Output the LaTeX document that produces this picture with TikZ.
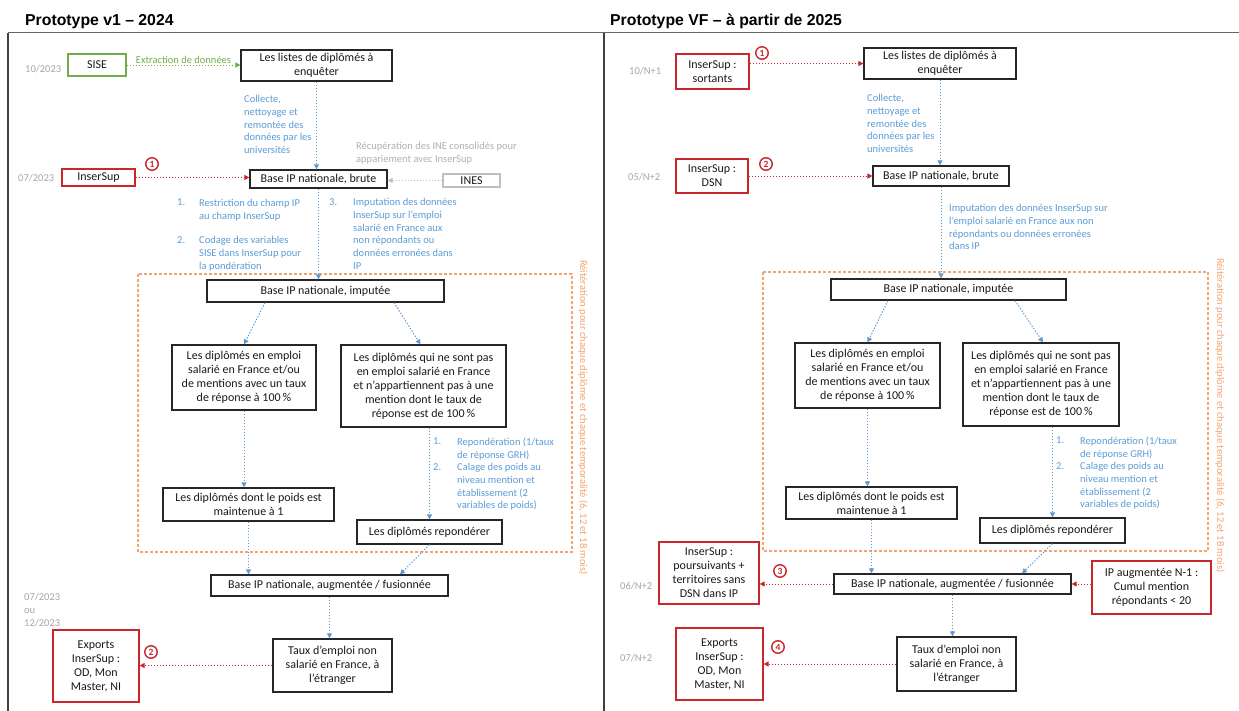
\documentclass[tikz,border=0pt]{standalone}
\usepackage{fontspec}
\setmainfont{Carlito}
\newfontfamily\titrefont{Liberation Sans}
\usetikzlibrary{arrows.meta, positioning, calc}
\definecolor{bleuflux}{HTML}{5B9BD5}
\definecolor{rougeflux}{HTML}{C8282D}
\definecolor{vertflux}{HTML}{70AD47}
\definecolor{orangeflux}{HTML}{F4A46E}
\definecolor{grisdate}{HTML}{A6A6A6}
\definecolor{griscadre}{HTML}{404040}

\tikzset{
  boite/.style={draw=black!85, line width=1.2pt, align=center, inner sep=1pt,
    font=\fontsize{12}{14}\selectfont, text=black!90},
  boiterouge/.style={boite, draw=rougeflux},
  notebleue/.style={align=left, inner sep=0pt, anchor=north west, text=bleuflux,
    font=\fontsize{10.5}{12.8}\selectfont},
  datetxt/.style={align=left, inner sep=0pt, anchor=west, text=grisdate,
    font=\fontsize{10.5}{12.6}\selectfont},
  fleche/.style={line width=0.9pt, dash pattern=on 1.5pt off 1.5pt,
    -{Triangle[length=5pt,width=5pt]}},
  bleue/.style={fleche, bleuflux},
  rouge/.style={fleche, rougeflux},
  rond/.style={circle, draw=rougeflux, line width=1.4pt, text=rougeflux, inner sep=0pt,
    minimum size=12.5pt, font=\bfseries\fontsize{9.5}{9.5}\selectfont},
  iteration/.style={draw=orangeflux, line width=1.4pt, dash pattern=on 3pt off 2pt},
  txtvertical/.style={rotate=-90, anchor=west, inner sep=0pt, text=orangeflux,
    font=\fontsize{10.5}{12}\selectfont},
  titre/.style={anchor=base west, inner sep=0pt,
    font=\titrefont\bfseries\fontsize{15.8}{18}\selectfont}
}

\begin{document}
\begin{tikzpicture}[x=1pt, y=-1pt]
  \useasboundingbox (0,0) rectangle (1239,711);

  % cadres et titres
  \node[titre] (titre1) at (25,25.5) {Prototype v1 – 2024};
  \node[titre] (titre2) at (610,26) {Prototype VF – à partir de 2025};
  \draw[griscadre!80, line width=1pt] (8,33) -- (1239,33);
  \draw[griscadre, line width=1.6pt] (8,33) -- (8,711);
  \draw[griscadre, line width=1.6pt] (604,33) -- (604,711);
  \draw[iteration] (138,274) rectangle (572,552);
  \draw[iteration] (763,272) rectangle (1208,551);
  \node[txtvertical] (reit1) at (583,260) {Réitération pour chaque diplôme et chaque temporalité (6, 12 et 18 mois)};
  \node[txtvertical] (reit2) at (1220,258) {Réitération pour chaque diplôme et chaque temporalité (6, 12 et 18 mois)};

  % prototype v1
  \node[datetxt] (d1) at (25,69) {10/2023};
  \node[datetxt] (d2) at (18,178) {07/2023};
  \node[datetxt] (d3) at (24,610) {07/2023\\ou\\12/2023};
  \node[boite, draw=vertflux, minimum width=58pt, minimum height=22pt] (sise) at (97,65) {SISE};
  \node[boite, minimum width=151pt, minimum height=31pt] (liste) at (316.5,65.5) {Les listes de diplômés à\\enquêter};
  \node[boiterouge, minimum width=73pt, minimum height=17pt] (inser) at (98.5,177.5) {InserSup};
  \node[rond] (n1) at (152,164) {1};
  \node[boite, minimum width=137pt, minimum height=18pt] (brute) at (318.5,179) {Base IP nationale, brute};
  \node[boite, draw=black!25, minimum width=57pt, minimum height=13pt] (ines) at (471.5,180.5) {INES};
  \node[boite, minimum width=237pt, minimum height=22pt] (imp) at (325.5,291) {Base IP nationale, imputée};
  \node[boite, minimum width=144pt, minimum height=65pt] (empl) at (244,377.5) {Les diplômés en emploi\\salarié en France et/ou\\de mentions avec un taux\\de réponse à 100\,\%};
  \node[boite, minimum width=165pt, minimum height=82pt] (nonempl) at (423.5,386) {Les diplômés qui ne sont pas\\en emploi salarié en France\\et n’appartiennent pas à une\\mention dont le taux de\\réponse est de 100\,\%};
  \node[boite, minimum width=171pt, minimum height=33pt] (poids) at (248.5,504.5) {Les diplômés dont le poids est\\maintenue à 1};
  \node[boite, minimum width=145pt, minimum height=24pt] (repond) at (429.5,532) {Les diplômés repondérer};
  \node[boite, minimum width=237pt, minimum height=21pt] (augm) at (329.5,585.5) {Base IP nationale, augmentée / fusionnée};
  \node[boite, minimum width=119pt, minimum height=53pt] (taux) at (332.5,665.5) {Taux d’emploi non\\salarié en France, à\\l’étranger};
  \node[boiterouge, minimum width=86pt, minimum height=72pt] (export) at (96,666) {Exports\\InserSup~:\\OD, Mon\\Master, NI};
  \node[rond] (n2) at (151,652) {2};

  \node[notebleue] (collecte) at (244,95) {Collecte,\\nettoyage et\\remontée des\\données par les\\universités};
  \node[notebleue, text=grisdate!90] (recup) at (356,142) {Récupération des INE consolidés pour\\appariement avec InserSup};
  \node[notebleue] (e1) at (177,199) {1.};
  \node[notebleue] (t1) at (199,199) {Restriction du champ IP\\au champ InserSup};
  \node[notebleue] (e2) at (177,236) {2.};
  \node[notebleue] (t2) at (199,236) {Codage des variables\\SISE dans InserSup pour\\la pondération};
  \node[notebleue] (e3) at (329,198) {3.};
  \node[notebleue] (t3) at (353,198) {Imputation des données\\InserSup sur l’emploi\\salarié en France aux\\non répondants ou\\données erronées dans\\IP};
  \node[notebleue] (r1) at (433,438) {1.};
  \node[notebleue] (s1) at (457,438) {Repondération (1/taux\\de réponse GRH)};
  \node[notebleue] (r2) at (433,463) {2.};
  \node[notebleue] (s2) at (457,463) {Calage des poids au\\niveau mention et\\établissement (2\\variables de poids)};

  \draw[fleche, vertflux] (sise.east) -- (sise.east -| liste.west)
    node[midway, above=1pt, inner sep=0pt, text=vertflux, font=\fontsize{10.5}{12}\selectfont] (extr) {Extraction de données};
  \draw[bleue] (liste.south) -- (liste.south |- brute.north);
  \draw[rouge] (inser.east) -- (inser.east -| brute.west);
  \draw[fleche, black!25] (ines.west) -- (ines.west -| brute.east);
  \draw[bleue] (brute.south) -- (brute.south |- imp.north);
  \draw[bleue] ([xshift=-60.5pt]imp.south) -- (empl.north);
  \draw[bleue] ([xshift=68.5pt]imp.south) -- ([xshift=-3pt]nonempl.north);
  \draw[bleue] (empl.south) -- (empl.south |- poids.north);
  \draw[bleue] (repond.north |- nonempl.south) -- (repond.north);
  \draw[bleue] (poids.south) -- (poids.south |- augm.north);
  \draw[bleue] (repond.south) -- ([xshift=70.5pt]augm.north);
  \draw[bleue] (augm.south) -- (augm.south |- taux.north);
  \draw[rouge] (taux.west) -- (taux.west -| export.east);

  % prototype VF
  \node[datetxt] (f1) at (629,71) {10/N+1};
  \node[datetxt] (f2) at (628,177) {05/N+2};
  \node[datetxt] (f3) at (620,586) {06/N+2};
  \node[datetxt] (f4) at (620,658) {07/N+2};
  \node[boiterouge, minimum width=73pt, minimum height=35pt] (sortants) at (712.5,71.5) {InserSup~:\\sortants};
  \node[rond] (m1) at (762,53) {1};
  \node[boite, minimum width=152pt, minimum height=31pt] (liste2) at (940,63.5) {Les listes de diplômés à\\enquêter};
  \node[boiterouge, minimum width=72pt, minimum height=34pt] (dsn) at (712,176) {InserSup~:\\DSN};
  \node[rond] (m2) at (766,164) {2};
  \node[boite, minimum width=136pt, minimum height=20pt] (brute2) at (941,176) {Base IP nationale, brute};
  \node[boite, minimum width=235pt, minimum height=21pt] (imp2) at (948.5,289.5) {Base IP nationale, imputée};
  \node[boite, minimum width=145pt, minimum height=65pt] (empl2) at (867.5,375.5) {Les diplômés en emploi\\salarié en France et/ou\\de mentions avec un taux\\de réponse à 100\,\%};
  \node[boite, minimum width=156pt, minimum height=83pt] (nonempl2) at (1041,384.5) {Les diplômés qui ne sont pas\\en emploi salarié en France\\et n’appartiennent pas à une\\mention dont le taux de\\réponse est de 100\,\%};
  \node[boite, minimum width=171pt, minimum height=32pt] (poids2) at (871.5,503) {Les diplômés dont le poids est\\maintenue à 1};
  \node[boite, minimum width=145pt, minimum height=25pt] (repond2) at (1052.5,530.5) {Les diplômés repondérer};
  \node[boite, minimum width=237pt, minimum height=20pt] (augm2) at (952.5,584) {Base IP nationale, augmentée / fusionnée};
  \node[boiterouge, minimum width=100pt, minimum height=62pt] (poursuiv) at (709,573) {InserSup~:\\poursuivants +\\territoires sans\\DSN dans IP};
  \node[rond] (m3) at (780,571) {3};
  \node[boiterouge, minimum width=119pt, minimum height=53pt] (cumul) at (1151.5,587.5) {IP augmentée N-1~:\\Cumul mention\\répondants < 20};
  \node[boite, minimum width=119pt, minimum height=54pt] (taux2) at (956.5,664) {Taux d’emploi non\\salarié en France, à\\l’étranger};
  \node[boiterouge, minimum width=87pt, minimum height=72pt] (export2) at (719.5,664) {Exports\\InserSup~:\\OD, Mon\\Master, NI};
  \node[rond] (m4) at (778,647) {4};

  \node[notebleue] (collecte2) at (867,94) {Collecte,\\nettoyage et\\remontée des\\données par les\\universités};
  \node[notebleue] (imput2) at (949,204) {Imputation des données InserSup sur\\l’emploi salarié en France aux non\\répondants ou données erronées\\dans IP};
  \node[notebleue] (r3) at (1056,437) {1.};
  \node[notebleue] (s3) at (1080,437) {Repondération (1/taux\\de réponse GRH)};
  \node[notebleue] (r4) at (1056,462) {2.};
  \node[notebleue] (s4) at (1080,462) {Calage des poids au\\niveau mention et\\établissement (2\\variables de poids)};

  \draw[rouge] (sortants.east |- liste2.west) -- (liste2.west);
  \draw[bleue] (liste2.south) -- (liste2.south |- brute2.north);
  \draw[rouge] (dsn.east) -- (dsn.east -| brute2.west);
  \draw[bleue] (brute2.south) -- (brute2.south |- imp2.north);
  \draw[bleue] ([xshift=-60.5pt]imp2.south) -- (empl2.north);
  \draw[bleue] ([xshift=66.5pt]imp2.south) -- ([xshift=2pt]nonempl2.north);
  \draw[bleue] (empl2.south) -- (empl2.south |- poids2.north);
  \draw[bleue] (repond2.north |- nonempl2.south) -- (repond2.north);
  \draw[bleue] (poids2.south) -- (poids2.south |- augm2.north);
  \draw[bleue] (repond2.south) -- ([xshift=69.5pt]augm2.north);
  \draw[bleue] (augm2.south) -- (augm2.south |- taux2.north);
  \draw[rouge] (augm2.west) -- (augm2.west -| poursuiv.east);
  \draw[rouge] (cumul.west |- augm2.east) -- (augm2.east);
  \draw[rouge] (taux2.west) -- (taux2.west -| export2.east);
\end{tikzpicture}
\end{document}
